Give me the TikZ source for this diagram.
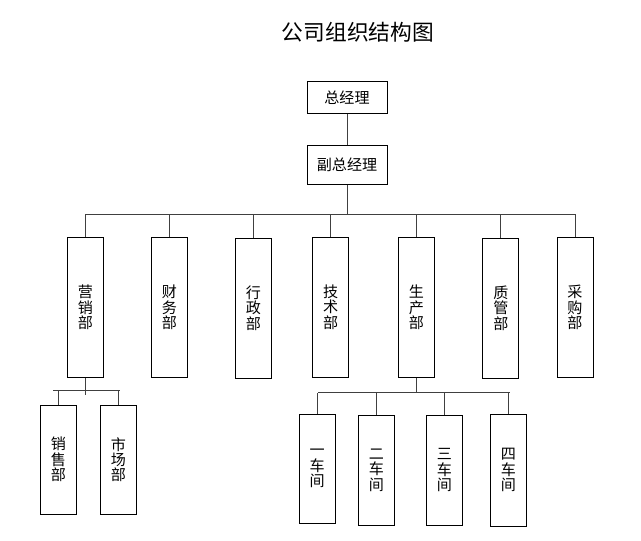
\documentclass[tikz,border=0pt]{standalone}
\usepackage{fontspec}
\setmainfont{Noto Sans CJK SC}
\begin{document}
\begin{tikzpicture}[x=0.75pt,y=-0.75pt,
  box/.style={draw=black, line width=0.75pt, inner sep=0pt, align=center,
    font=\fontsize{11.3}{11.6}\selectfont},
  dept/.style={box, minimum width=27pt, minimum height=105pt},
  conn/.style={line width=0.75pt, draw=black!75}]
\useasboundingbox (0,0) rectangle (641,540);
\node[font=\fontsize{16.3}{18}\selectfont] (title) at (358,32) {公司组织结构图};
\node[box, minimum width=60pt, minimum height=23.5pt] (zjl) at (347,97.5) {总经理};
\node[box, minimum width=60pt, minimum height=29.25pt] (fzjl) at (347,164.5) {副总经理};
% departments
\node[dept] (yx) at (85.3,307.5) {营\\销\\部};
\node[dept] (cw) at (169.4,307.5) {财\\务\\部};
\node[dept] (xz) at (253.5,308) {行\\政\\部};
\node[dept] (js) at (330.6,307) {技\\术\\部};
\node[dept] (sc) at (416.5,307.5) {生\\产\\部};
\node[dept] (zg) at (500.8,308) {质\\管\\部};
\node[dept] (cg) at (575,307.5) {采\\购\\部};
% sub units of 营销部
\node[box, minimum width=27pt, minimum height=81.75pt] (xs) at (58.4,459.7) {销\\售\\部};
\node[box, minimum width=27pt, minimum height=81.75pt] (sh) at (118.4,459.7) {市\\场\\部};
% workshops
\node[box, minimum width=27pt, minimum height=81.75pt] (c1) at (317.2,468.8) {一\\车\\间};
\node[box, minimum width=27pt, minimum height=82.5pt] (c2) at (376.5,470.3) {二\\车\\间};
\node[box, minimum width=27pt, minimum height=82.5pt] (c3) at (444.5,470.3) {三\\车\\间};
\node[box, minimum width=27pt, minimum height=84pt] (c4) at (508.5,470.3) {四\\车\\间};
% connectors top
\draw[conn] (zjl) -- (fzjl);
\coordinate (bus) at (347,214);
\draw[conn] (fzjl.south) -- (bus);
\draw[conn] (yx.north |- bus) -- (cg.north |- bus);
\foreach \n in {yx,cw,xz,js,sc,zg,cg} \draw[conn] (\n.north) -- (\n.north |- bus);
% 营销部 branch
\coordinate (ybL) at (53,390.3);
\coordinate (ybR) at (120,390.3);
\coordinate (yend) at (0,395);
\draw[conn] (yx.south) -- (yx.south |- yend);
\draw[conn] (ybL) -- (ybR);
\foreach \n in {xs,sh} \draw[conn] (\n.north) -- (\n.north |- ybL);
% 生产部 branch
\coordinate (sbL) at (318,392.7);
\coordinate (sbR) at (510,392.7);
\draw[conn] (sc.south) -- (sc.south |- sbL);
\draw[conn] (sbL) -- (sbR);
\foreach \n in {c1,c2,c3,c4} \draw[conn] (\n.north) -- (\n.north |- sbL);
\end{tikzpicture}
\end{document}
